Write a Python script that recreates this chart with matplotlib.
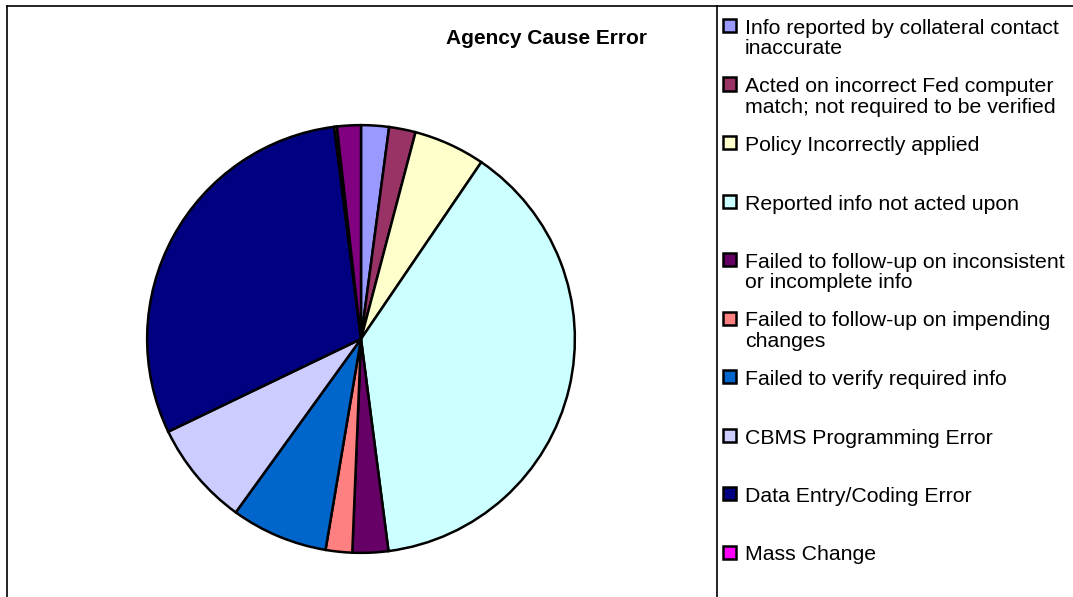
import matplotlib
matplotlib.use("Agg")
import matplotlib.pyplot as plt
from matplotlib.lines import Line2D
from matplotlib.patches import Rectangle

plt.rcParams["font.family"] = ["Liberation Sans", "DejaVu Sans"]

# ------------------------------------------------------------
# Data (percent of agency-caused errors)
# ------------------------------------------------------------
labels = [
    "Info reported by collateral contact\ninaccurate",
    "Acted on incorrect Fed computer\nmatch; not required to be verified",
    "Policy Incorrectly applied",
    "Reported info not acted upon",
    "Failed to follow-up on inconsistent\nor incomplete info",
    "Failed to follow-up on impending\nchanges",
    "Failed to verify required info",
    "CBMS Programming Error",
    "Data Entry/Coding Error",
    "Mass Change",
]
values = [2.1, 2.0, 5.4, 38.4, 2.7, 2.0, 7.3, 7.9, 30.1, 0.0]
colors = ["#9999FF", "#993366", "#FFFFCC", "#CCFFFF", "#660066",
          "#FF8080", "#0066CC", "#CCCCFF", "#000080", "#FF00FF"]

# further categories whose legend entries fall outside the chart area
extra_values = [0.2, 1.8]
extra_colors = ["#FFFF00", "#800080"]

W, H = 1073, 597
fig = plt.figure(figsize=(W / 100, H / 100), dpi=100)

# pie axes: centre (361, 339) px, radius 216 px
cx, cy, r = 361, 339, 216
ax = fig.add_axes([(cx - r) / W, (H - cy - r) / H, 2 * r / W, 2 * r / H])

all_vals = values + extra_values
all_cols = colors + extra_colors
keep = [(v, c) for v, c in zip(all_vals, all_cols) if v > 0]
ax.pie([k[0] for k in keep], colors=[k[1] for k in keep],
       startangle=90, counterclock=False, radius=1,
       wedgeprops=dict(edgecolor="black", linewidth=1.8))
ax.set_xlim(-1.01, 1.01)
ax.set_ylim(-1.01, 1.01)
ax.set_aspect("equal")
ax.axis("off")

# title
fig.text(547 / W, 1 - 38 / H, "Agency Cause Error", ha="center", va="center",
         fontsize=15, fontweight="bold")

# frame lines (chart area + legend box edge)
def px_line(x0, y0, x1, y1):
    fig.add_artist(Line2D([x0 / W, x1 / W], [1 - y0 / H, 1 - y1 / H],
                          color="black", linewidth=1.2))

px_line(7, 6, W, 6)
px_line(7, 6, 7, H)
px_line(717, 6, 717, H)

# legend entries, drawn by hand so the spacing matches the slotted layout
y0, step = 26, 58.5
for i, (lab, col) in enumerate(zip(labels, colors)):
    y = y0 + i * step
    fig.add_artist(Rectangle((723 / W, 1 - (y + 6) / H), 13 / W, 13 / H,
                             facecolor=col, edgecolor="black", linewidth=1.8))
    fig.text(745 / W, 1 - (y - 7) / H, lab, ha="left", va="top",
             fontsize=15.3, linespacing=1.1)

fig.savefig("out.png", dpi=100)
